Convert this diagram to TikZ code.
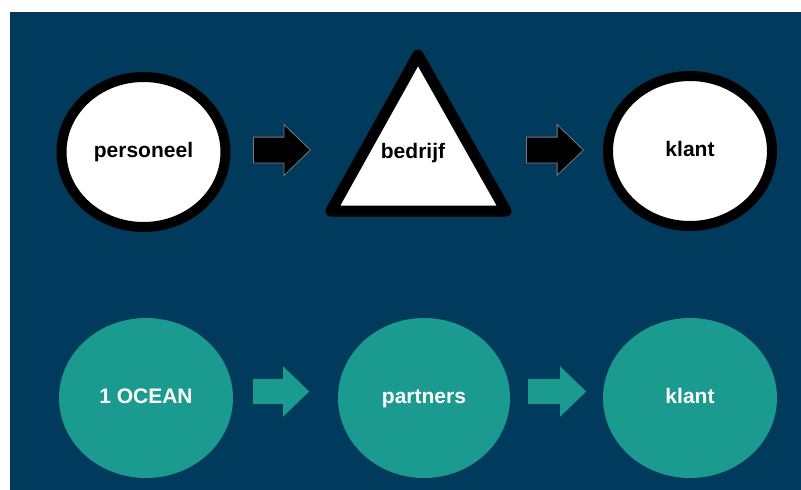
\documentclass[tikz,border=0pt]{standalone}
\usepackage{fontspec}
\setmainfont{Liberation Sans}
\usetikzlibrary{shapes.geometric}
\usetikzlibrary{shapes.arrows}
\definecolor{mnavy}{HTML}{003A5C}
\definecolor{mteal}{HTML}{1B9A90}
\definecolor{mgrey}{HTML}{7A7A7A}
\tikzset{label font/.style = {font = \bfseries\fontsize{21}{25}\selectfont, text height = 15.5, text depth = 4.5}}
\tikzset{whiteball/.style = {ellipse, draw = black, line width = 10, fill = white, text = black, minimum width = 164, minimum height = 150, inner sep = 0, label font}}
\tikzset{tealball/.style = {ellipse, fill = mteal, text = white, minimum width = 174, minimum height = 160, inner sep = 0, label font}}
\tikzset{blockarrow/.style = {single arrow, anchor = tail, inner xsep = 0, inner ysep = 12.5, single arrow head extend = 12.5, single arrow tip angle = 88, minimum height = 57}}

\begin{document}
\begin{tikzpicture}[x = 1pt, y = -1pt]
      \useasboundingbox (0, 0) rectangle (801, 490);
      \fill [white] (0, 0) rectangle (801, 490);
      \fill [mnavy] (10, 12) rectangle (801, 490);

      % top row
      \node [whiteball] (personeel) at (143.5, 152) {personeel};
      \draw [line width = 11, line join = round, fill = white] (418, 55) coordinate (top) -- (331, 211) coordinate (left) -- (506, 211) coordinate (right) -- cycle;
      \node [label font, text = black] (bedrijf) at (413, 153) {bedrijf};
      \node [whiteball] (klanttop) at (690, 151) {klant};
      \node [blockarrow, fill = black, draw = mgrey, line width = 0.8] (arrowa) at (253, 150) {};
      \node [blockarrow, fill = black, draw = mgrey, line width = 0.8] (arrowb) at (526, 150) {};

      % bottom row
      \node [tealball] (ocean) at (146, 398) {1 OCEAN};
      \node [tealball, minimum width = 172] (partners) at (424, 398) {partners};
      \node [tealball] (klantbottom) at (690, 398) {klant};
      \node [blockarrow, fill = mteal, minimum height = 56] (arrowc) at (253, 391.5) {};
      \node [blockarrow, fill = mteal, minimum height = 58] (arrowd) at (528, 391.5) {};
    \end{tikzpicture}
\end{document}
